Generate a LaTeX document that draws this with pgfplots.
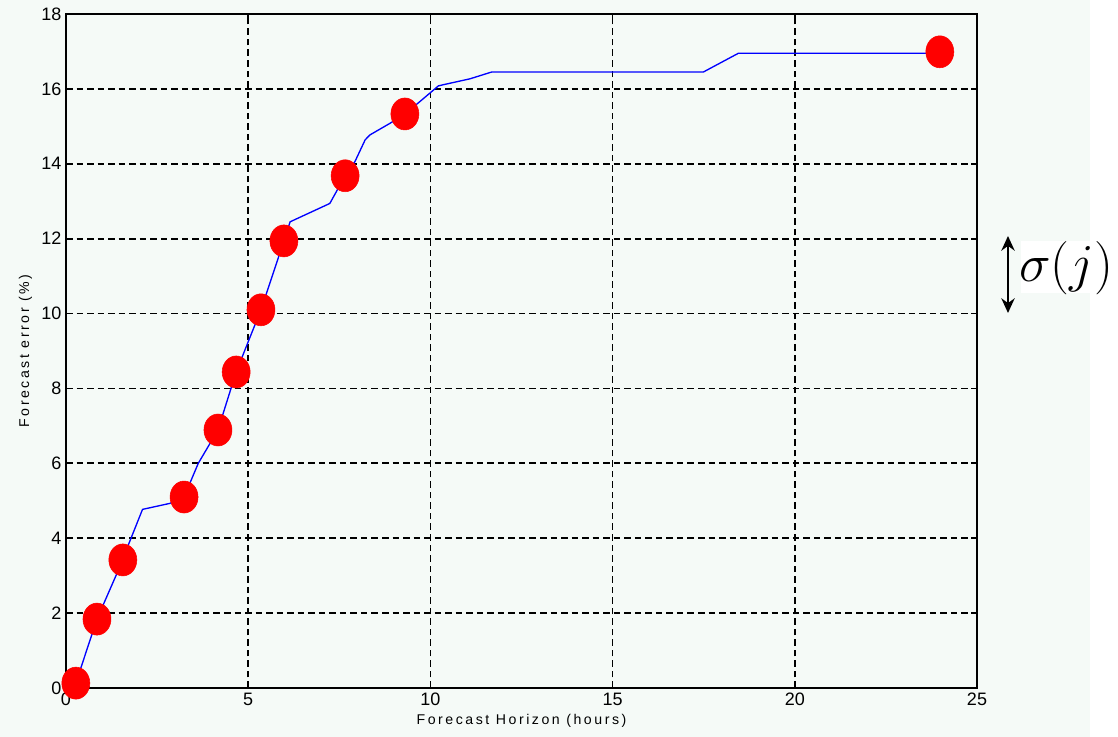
\documentclass[border=0pt]{standalone}
\usepackage{fix-cm}
\usepackage{pgfplots}
\pgfplotsset{compat=1.18}
\usepackage[no-math]{fontspec}
\setmainfont{Liberation Sans}
\newfontfamily\lblfont[LetterSpace=18]{Liberation Sans}
\usetikzlibrary{arrows.meta}
\definecolor{bgmint}{RGB}{245,250,247}

\begin{document}
\begin{tikzpicture}
\fill[bgmint] (-49.5pt,-36.75pt) rectangle (789pt,516pt);
\fill[white] (768pt,-36.75pt) rectangle (789pt,516pt);
\begin{axis}[
 at={(0pt,0pt)}, anchor=south west,
 scale only axis, width=683.25pt, height=505.5pt,
 xmin=0,xmax=25,ymin=0,ymax=18,
 xtick={0,5,...,25}, ytick={0,2,...,18},
 grid=major,
 major grid style={black, line width=1.3pt, dash pattern=on 4.9pt off 3pt},
 axis line style={black, line width=1.5pt},
 tick style={black, line width=1.3pt},
 tick align=inside, major tick length=4.5pt,
 ticklabel style={font=\fontsize{13.5}{14}\selectfont},
 /pgf/number format/assume math mode=true,
 xlabel={Forecast Horizon (hours)},
 ylabel={Forecast error (\%)},
 label style={font=\lblfont\fontsize{10.6}{12}\selectfont},
 clip=false,
]
\addplot[blue, line width=1pt, mark=none] coordinates {
(0.27,0.13) (0.85,1.84) (1.56,3.42) (1.71,3.82) (2.10,4.77) (2.85,4.93)
(3.24,5.10) (3.63,6.00) (4.17,6.89) (4.67,8.44) (5.35,10.10) (5.98,11.94)
(6.15,12.45) (7.24,12.94) (7.66,13.68) (7.93,14.06) (8.21,14.64) (8.34,14.77)
(8.89,15.08) (9.30,15.33) (9.71,15.66) (10.22,16.08) (10.35,16.11) (11.09,16.27)
(11.68,16.45) (17.49,16.45) (18.45,16.95) (24.0,16.95)
};
\addplot[only marks, mark=*, mark size=12pt, mark options={xscale=0.875, fill=red, draw=red}] coordinates {
(0.27,0.13) (0.85,1.84) (1.56,3.42) (3.24,5.10) (4.17,6.89) (4.67,8.44)
(5.35,10.10) (5.98,11.94) (7.66,13.68) (9.30,15.33) (23.98,16.99)
};
\end{axis}
\draw[{Stealth[length=11pt,width=10pt]}-{Stealth[length=11pt,width=10pt]}, line width=1.6pt] (706.5pt,281.25pt) -- (706.5pt,339pt);
\fill[white] (716pt,296.25pt) rectangle (789pt,335.25pt);
\node at (750pt,315pt) {\fontsize{40}{44}\selectfont$\sigma(j)$};
\end{tikzpicture}
\end{document}
